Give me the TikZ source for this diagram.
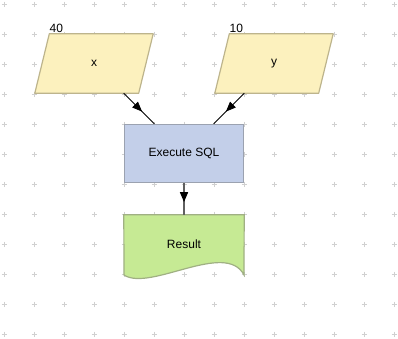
\documentclass[tikz,border=0pt]{standalone}
\usepackage{fontspec}
\setmainfont{Liberation Sans}
\usetikzlibrary{arrows.meta,decorations.markings}
\pgfdeclarelayer{gridlayer}
\pgfdeclarelayer{shapelayer}
\pgfsetlayers{gridlayer,shapelayer,main}
\definecolor{parafill}{HTML}{FCF1BE}
\definecolor{paradraw}{HTML}{BDB48C}
\definecolor{sqlfill}{HTML}{C3CFE9}
\definecolor{sqldraw}{HTML}{9BA2B0}
\definecolor{docfill}{HTML}{C6EA94}
\definecolor{docdraw}{HTML}{A0B083}
\definecolor{gridc}{HTML}{D0D0D0}
\definecolor{edgegray}{HTML}{606060}
\tikzset{
  every node/.style={font=\fontsize{12}{14}\selectfont, text=black},
  parabox/.style={rectangle, minimum width=118pt, minimum height=59pt, inner sep=0pt},
  parashape/.style={fill=parafill, draw=paradraw, line width=1.2pt, line join=round},
  sqlbox/.style={rectangle, minimum width=119pt, minimum height=58pt, inner sep=0pt,
    fill=sqlfill, draw=sqldraw, line width=1.2pt},
  docbox/.style={rectangle, minimum width=120pt, minimum height=58pt, inner sep=0pt},
  docshape/.style={fill=docfill, draw=docdraw, line width=1.2pt},
  numlabel/.style={anchor=base west, inner sep=0pt},
  midarrow/.style={postaction={decorate}, decoration={markings,
    mark=at position #1 with {\arrow{Triangle[length=10pt,width=8pt,color=black]}}}},
  flowline/.style={draw=black, line width=0.8pt},
  flowline2/.style={draw=edgegray, line width=1.6pt},
  gridplus/.style={draw=gridc, line width=0.6pt}
}
\begin{document}
\begin{tikzpicture}[x=1pt,y=-1pt]
\useasboundingbox (0,0) rectangle (398,338);
% grid
\begin{pgfonlayer}{gridlayer}
\foreach \gx in {4,34,...,394}{
  \foreach \gy in {4,34,...,334}{
    \draw[gridplus] (\gx-2.5,\gy) -- (\gx+2.5,\gy) (\gx,\gy-2.5) -- (\gx,\gy+2.5);
  }
}
\end{pgfonlayer}
% nodes
\node[parabox] (x) at (94,63.5) {x};
\node[parabox] (y) at (274,63.5) {y};
\node[sqlbox] (sql) at (184,153.5) {Execute SQL};
\node[docbox] (res) at (184,244) {Result};
\begin{pgfonlayer}{shapelayer}
  \foreach \n in {x,y}{
    \filldraw[parashape] ([xshift=14.5pt]\n.north west) -- (\n.north east)
      -- ([xshift=-14.5pt]\n.south east) -- (\n.south west) -- cycle;
  }
  \filldraw[docshape]
    (res.north west) -- (res.north east) -- (244,275)
    .. controls (226,240) and (150,292) .. (124,275) -- cycle;
\end{pgfonlayer}
\node[numlabel] (xn) at (49.5,32) {40};
\node[numlabel] (yn) at (229.5,32) {10};
% connectors
\draw[flowline, midarrow=0.6] (x) -- (sql);
\draw[flowline, midarrow=0.6] (y) -- (sql);
\draw[flowline2, midarrow=0.6] (sql) -- (res);
\end{tikzpicture}
\end{document}
